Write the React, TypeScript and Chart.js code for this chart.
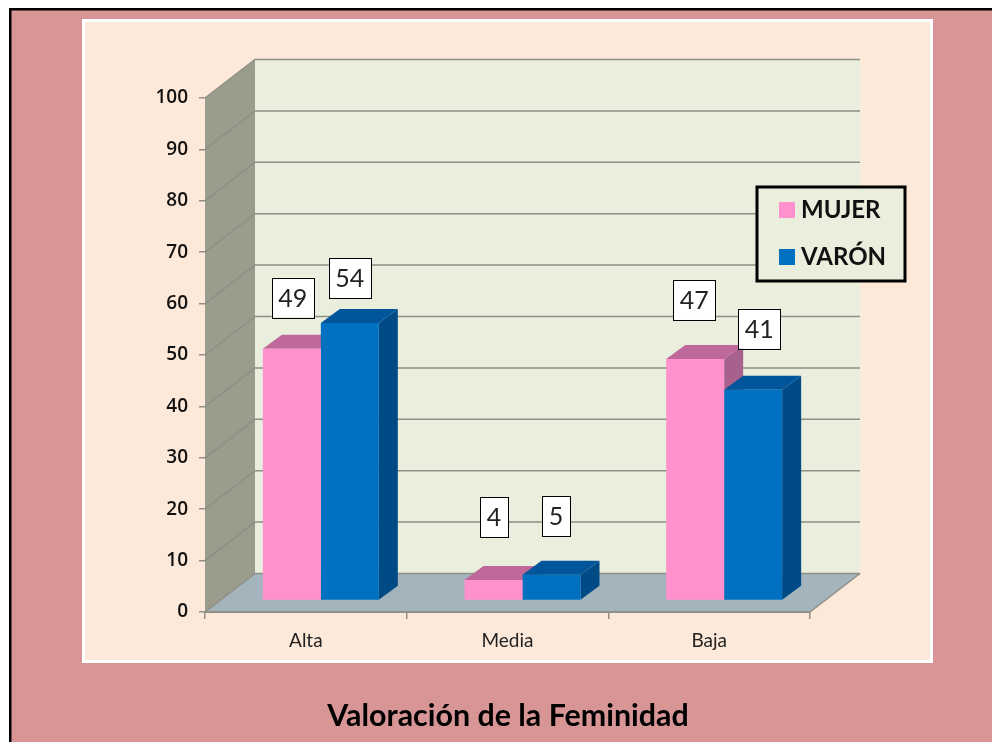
import React, { useEffect, useRef } from "react";
import { Chart, registerables } from "chart.js";

Chart.register(...registerables);

const categories = ["Alta", "Media", "Baja"];
const mujer = [49, 4, 47];
const varon = [54, 5, 41];
const seriesNames = ["MUJER", "VARÓN"];
const chartTitle = "Valoración de la Feminidad";

const frontColors = ["#FF92CC", "#0070C0"];
const topColors = ["#C0689B", "#00559B"];
const sideColors = ["#A8608C", "#004A86"];

const WALL = { x: 50, y: -38.5 };
const BAR_SHIFT = { x: 15, y: -11.5 };
const BAR_DEPTH = { x: 19, y: -14 };
const LABEL_NUDGE = [
  [[1, -51], [0.5, -63], [-1, -59]],
  [[0, -45], [4.5, -59], [6, -61]],
];

const poly = (ctx: CanvasRenderingContext2D, pts: number[][], fill: string) => {
  ctx.beginPath();
  pts.forEach((p, i) => (i ? ctx.lineTo(p[0], p[1]) : ctx.moveTo(p[0], p[1])));
  ctx.closePath();
  ctx.fillStyle = fill;
  ctx.fill();
};

const scene = {
  id: "scene",
  beforeDraw(chart: any) {
    const { ctx, width, height, chartArea: a, scales } = chart;
    ctx.save();
    ctx.fillStyle = "#FFFFFF";
    ctx.fillRect(0, 0, width, height);
    ctx.fillStyle = "#D89595";
    ctx.fillRect(9, 8, width - 9, height - 8);
    ctx.fillStyle = "#000";
    ctx.fillRect(9, 8, width - 9, 2.5);
    ctx.fillRect(9, 8, 2.5, height - 8);
    ctx.fillStyle = "#FFFFFF";
    ctx.fillRect(82, 19, 851, 644);
    ctx.fillStyle = "#FDE9D9";
    ctx.fillRect(85, 22, 845, 638);

    const L = a.left, R = a.right, T = a.top, B = a.bottom;
    const dx = WALL.x, dy = WALL.y;
    poly(ctx, [[L + dx, T + dy], [R + dx, T + dy], [R + dx, B + dy], [L + dx, B + dy]], "#E9EEDD");
    poly(ctx, [[L, T], [L + dx, T + dy], [L + dx, B + dy], [L, B]], "#9A9C8C");
    poly(ctx, [[L, B], [R, B], [R + dx, B + dy], [L + dx, B + dy]], "#A4B4BC");

    ctx.lineWidth = 1.5;
    ctx.strokeStyle = "#8F8F85";
    scales.y.ticks.forEach((t: any) => {
      const y = scales.y.getPixelForValue(t.value);
      ctx.beginPath();
      ctx.moveTo(L, y);
      ctx.lineTo(L + dx, y + dy);
      ctx.lineTo(R + dx, y + dy);
      ctx.stroke();
    });
    ctx.beginPath();
    ctx.moveTo(R, B);
    ctx.lineTo(R + dx, B + dy);
    ctx.stroke();
    ctx.restore();
  },
  beforeDatasetsDraw(chart: any) {
    const { ctx } = chart;
    ctx.save();
    ctx.translate(BAR_SHIFT.x, BAR_SHIFT.y);
    [0, 1].forEach((d) => {
      chart.getDatasetMeta(d).data.forEach((bar: any) => {
        const l = bar.x - bar.width / 2, r = bar.x + bar.width / 2;
        const t = bar.y, b = bar.base;
        const dx = BAR_DEPTH.x, dy = BAR_DEPTH.y;
        poly(ctx, [[r, t], [r + dx, t + dy], [r + dx, b + dy], [r, b]], sideColors[d]);
        poly(ctx, [[l, t], [l + dx, t + dy], [r + dx, t + dy], [r, t]], topColors[d]);
      });
    });
  },
  afterDatasetsDraw(chart: any) {
    const { ctx } = chart;
    ctx.restore();
    ctx.save();
    // value labels
    ctx.font = '25px Lato, "Open Sans", sans-serif';
    ctx.textAlign = "center";
    ctx.textBaseline = "middle";
    [0, 1].forEach((d) => {
      const values = chart.data.datasets[d].data;
      chart.getDatasetMeta(d).data.forEach((bar: any, i: number) => {
        const cx = bar.x + BAR_SHIFT.x + LABEL_NUDGE[d][i][0];
        const cy = bar.y + BAR_SHIFT.y + LABEL_NUDGE[d][i][1];
        const text = String(values[i]);
        const w = Math.round(ctx.measureText(text).width) + 13;
        const h = 40;
        ctx.fillStyle = "#FFFFFF";
        ctx.fillRect(cx - w / 2, cy - h / 2, w, h);
        ctx.strokeStyle = "#000";
        ctx.lineWidth = 1;
        ctx.strokeRect(Math.round(cx - w / 2) + 0.5, Math.round(cy - h / 2) + 0.5, w, h);
        ctx.fillStyle = "#222";
        ctx.fillText(text, cx, cy + 1);
      });
    });

    // legend
    ctx.fillStyle = "#E9EEDD";
    ctx.fillRect(756, 186, 150, 96);
    ctx.strokeStyle = "#000";
    ctx.lineWidth = 3;
    ctx.strokeRect(757, 187, 148, 94);
    ctx.textAlign = "left";
    ctx.font = 'bold 24px Lato, "Open Sans", sans-serif';
    seriesNames.forEach((name, i) => {
      const y = 210 + i * 47;
      ctx.fillStyle = frontColors[i];
      ctx.fillRect(779, y - 8, 16, 16);
      ctx.fillStyle = "#111";
      ctx.fillText(name, 801, y);
    });

    // title
    ctx.textAlign = "center";
    ctx.font = 'bold 30.4px Lato, "Open Sans", sans-serif';
    ctx.fillStyle = "#000";
    ctx.fillText(chartTitle, 508, 716);
    ctx.restore();
  },
};

export default function App() {
  const ref = useRef<HTMLCanvasElement>(null);
  useEffect(() => {
    const chart = new Chart(ref.current as HTMLCanvasElement, {
      type: "bar",
      data: {
        labels: categories,
        datasets: [
          { label: seriesNames[0], data: mujer, backgroundColor: frontColors[0], borderWidth: 0, clip: false as any },
          { label: seriesNames[1], data: varon, backgroundColor: frontColors[1], borderWidth: 0, clip: false as any },
        ],
      },
      options: {
        animation: false,
        responsive: false,
        devicePixelRatio: 1,
        layout: { padding: { left: 0, right: 182, top: 98, bottom: 0 } },
        datasets: { bar: { categoryPercentage: 0.575, barPercentage: 1 } },
        plugins: { legend: { display: false }, title: { display: false }, tooltip: { enabled: false } },
        scales: {
          x: {
            afterFit: (s: any) => { s.height = 130; },
            grid: { drawOnChartArea: false, color: "#8F8F85", tickLength: 7, lineWidth: 1.5 },
            border: { color: "#8F8F85", width: 2 },
            ticks: { color: "#222", padding: 10, font: { family: "Lato, sans-serif", size: 19 }, maxRotation: 0 },
          },
          y: {
            min: 0,
            max: 100,
            afterFit: (s: any) => { s.width = 205; },
            grid: { drawOnChartArea: false, color: "#8F8F85", tickLength: 6, lineWidth: 1.5 },
            border: { display: false },
            ticks: { stepSize: 10, color: "#111", padding: 11, font: { family: '"Open Sans", sans-serif', size: 19, weight: "600" } },
          },
        },
      },
      plugins: [scene as any],
    });
    return () => chart.destroy();
  }, []);
  return (
    <canvas
      ref={ref}
      width={992}
      height={742}
      style={{ position: "absolute", left: 0, top: 0, width: 992, height: 742 }}
    />
  );
}
